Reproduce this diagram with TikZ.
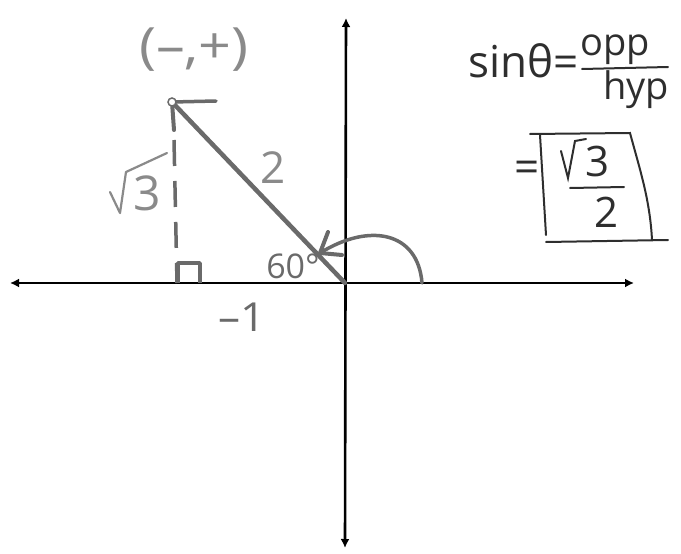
\documentclass[tikz,border=0pt]{standalone}
\usepackage{fontspec}
\setmainfont{Open Sans}
\usetikzlibrary{arrows.meta}
\definecolor{lab}{HTML}{8A8A8A}
\definecolor{hyp}{HTML}{6A6A6A}
\definecolor{ink}{HTML}{2E2E2E}
\begin{document}
\begin{tikzpicture}[x=1pt,y=-1pt,
  axis/.style={line width=2.6pt,black,{Latex[length=9pt,width=9pt]}-{Latex[length=9pt,width=9pt]}},
  tri/.style={line width=4.5pt,hyp,line cap=round},
  lbl/.style={text=lab,inner sep=0pt},
  rt/.style={text=ink,inner sep=0pt},
  pen/.style={line width=2pt,ink,line cap=round}]
\useasboundingbox (0,0) rectangle (681,554);
% axes
\coordinate (L) at (10,283);
\coordinate (R) at (634,283);
\coordinate (T) at (346,18);
\coordinate (B) at (345,548);
\coordinate (O) at (345,283);
\draw[axis] (L) -- (R);
\draw[axis] (T) -- (B);
% terminal point and hypotenuse
\coordinate (P) at (172,102);
\coordinate (Pr) at (216,101);
\coordinate (F) at (177,283);
\draw[tri] (O) -- (P);
\draw[tri,line width=3.5pt] (P) -- (Pr);
\draw[tri,line width=4pt] (P) -- ++(2,28) coordinate (Pd);
\draw[line width=3.5pt,hyp,dash pattern=on 26pt off 15pt] (Pd) ++(0,10) -- (F);
\draw[line width=1.5pt,hyp,fill=white] (P) circle (4);
% right angle
\coordinate (Q1) at (178,263);
\coordinate (Q2) at (200,263);
\coordinate (Q3) at (200,283);
\draw[line width=3.5pt,hyp,line join=round] (178,283) -- (Q1) -- (Q2) -- (Q3);
% angle arc
\coordinate (A0) at (422,283);
\coordinate (A1) at (320,253);
\draw[line width=3.5pt,hyp,line cap=round] (A0) .. controls (418,232) and (370,222) .. (A1);
\draw[line width=4pt,hyp,line cap=round,line join=round] (328,232) -- (A1) -- (342,255);
% labels
\node[lbl,font=\fontsize{50}{50}\selectfont,xscale=1.15] (pt) at (194,50) {(–,+)};
\node[lbl,font=\fontsize{44}{44}\selectfont] (two) at (273,168) {2};
\node[lbl,font=\fontsize{34}{34}\selectfont,text=hyp] (ang) at (293,266) {60°};
\node[lbl,font=\fontsize{40}{40}\selectfont,text=hyp,xscale=1.1] (m1) at (242,317) {–1};
\node[lbl,font=\fontsize{48}{48}\selectfont] (three) at (147,193) {3};
\draw[line width=2.2pt,lab,line cap=round,line join=round] (110,192) -- (120,213) -- (126,172) -- (167,153);
% right side formula
\node[rt,font=\fontsize{44}{44}\selectfont,anchor=base west] (sin) at (468,77) {sinθ=};
\node[rt,font=\fontsize{38}{38}\selectfont] (opp) at (615,50) {opp};
\draw[pen] (582,69) -- (668,67);
\node[rt,font=\fontsize{38}{38}\selectfont] (hypn) at (636,90) {hyp};
% boxed answer
\node[rt,font=\fontsize{44}{44}\selectfont] (eq) at (527,172) {=};
\draw[pen] (530,134) -- (630,133) .. controls (640,170) and (650,200) .. (652,240);
\draw[pen] (540,135) -- (546,235);
\draw[pen] (546,242) -- (668,240);
\node[rt,font=\fontsize{42}{42}\selectfont] (n3) at (598,161) {3};
\draw[pen] (561,151) -- (568,178) -- (575,141) -- (586,139);
\draw[pen] (570,188) -- (624,187);
\node[rt,font=\fontsize{42}{42}\selectfont] (d2) at (607,212) {2};
\end{tikzpicture}
\end{document}
